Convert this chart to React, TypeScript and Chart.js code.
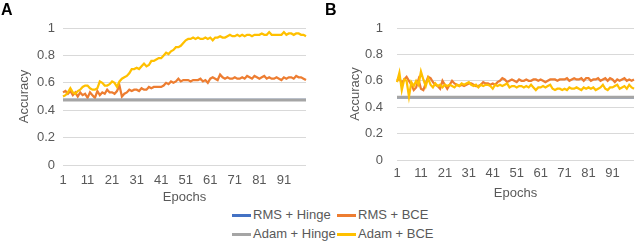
import React, { useEffect, useRef } from "react";
import { Chart, registerables } from "chart.js";

Chart.register(...registerables);

const epochs: string[] = Array.from({ length: 100 }, (_, i) => String(i + 1));
const yTicks = [0, 0.2, 0.4, 0.6, 0.8, 1];

const seriesNames = ["RMS + Hinge", "RMS + BCE", "Adam + Hinge", "Adam + BCE"];
const seriesColors = ["#4472C4", "#ED7D31", "#A5A5A5", "#FFC000"];

// Panel A
const aRmsHinge = [
  0.475, 0.475, 0.475, 0.475, 0.475, 0.475, 0.475, 0.475, 0.475, 0.475,
  0.475, 0.475, 0.475, 0.475, 0.475, 0.475, 0.475, 0.475, 0.475, 0.475,
  0.475, 0.475, 0.475, 0.475, 0.475, 0.475, 0.475, 0.475, 0.475, 0.475,
  0.475, 0.475, 0.475, 0.475, 0.475, 0.475, 0.475, 0.475, 0.475, 0.475,
  0.475, 0.475, 0.475, 0.475, 0.475, 0.475, 0.475, 0.475, 0.475, 0.475,
  0.475, 0.475, 0.475, 0.475, 0.475, 0.475, 0.475, 0.475, 0.475, 0.475,
  0.475, 0.475, 0.475, 0.475, 0.475, 0.475, 0.475, 0.475, 0.475, 0.475,
  0.475, 0.475, 0.475, 0.475, 0.475, 0.475, 0.475, 0.475, 0.475, 0.475,
  0.475, 0.475, 0.475, 0.475, 0.475, 0.475, 0.475, 0.475, 0.475, 0.475,
  0.475, 0.475, 0.475, 0.475, 0.475, 0.475, 0.475, 0.475, 0.475, 0.475,
];
const aRmsBce = [
  0.53, 0.54, 0.52, 0.54, 0.51, 0.53, 0.50, 0.53, 0.51, 0.52,
  0.49, 0.53, 0.51, 0.49, 0.54, 0.51, 0.53, 0.52, 0.55, 0.53,
  0.53, 0.52, 0.54, 0.58, 0.50, 0.52, 0.53, 0.55, 0.54, 0.55,
  0.55, 0.54, 0.56, 0.55, 0.55, 0.57, 0.56, 0.57, 0.57, 0.57,
  0.57, 0.58, 0.60, 0.59, 0.61, 0.60, 0.61, 0.63, 0.61, 0.62,
  0.62, 0.62, 0.61, 0.62, 0.62, 0.62, 0.63, 0.61, 0.62, 0.60,
  0.63, 0.64, 0.63, 0.62, 0.66, 0.64, 0.63, 0.64, 0.63, 0.63,
  0.64, 0.63, 0.63, 0.64, 0.63, 0.65, 0.64, 0.63, 0.65, 0.64,
  0.63, 0.64, 0.65, 0.63, 0.64, 0.63, 0.63, 0.64, 0.63, 0.62,
  0.64, 0.63, 0.64, 0.64, 0.63, 0.65, 0.64, 0.64, 0.63, 0.62,
];
const aAdamHinge = [
  0.475, 0.475, 0.475, 0.475, 0.475, 0.475, 0.475, 0.475, 0.475, 0.475,
  0.475, 0.475, 0.475, 0.475, 0.475, 0.475, 0.475, 0.475, 0.475, 0.475,
  0.475, 0.475, 0.475, 0.475, 0.475, 0.475, 0.475, 0.475, 0.475, 0.475,
  0.475, 0.475, 0.475, 0.475, 0.475, 0.475, 0.475, 0.475, 0.475, 0.475,
  0.475, 0.475, 0.475, 0.475, 0.475, 0.475, 0.475, 0.475, 0.475, 0.475,
  0.475, 0.475, 0.475, 0.475, 0.475, 0.475, 0.475, 0.475, 0.475, 0.475,
  0.475, 0.475, 0.475, 0.475, 0.475, 0.475, 0.475, 0.475, 0.475, 0.475,
  0.475, 0.475, 0.475, 0.475, 0.475, 0.475, 0.475, 0.475, 0.475, 0.475,
  0.475, 0.475, 0.475, 0.475, 0.475, 0.475, 0.475, 0.475, 0.475, 0.475,
  0.475, 0.475, 0.475, 0.475, 0.475, 0.475, 0.475, 0.475, 0.475, 0.475,
];
const aAdamBce = [
  0.50, 0.51, 0.53, 0.56, 0.53, 0.52, 0.54, 0.55, 0.57, 0.58,
  0.58, 0.56, 0.55, 0.55, 0.56, 0.61, 0.60, 0.58, 0.58, 0.59,
  0.61, 0.60, 0.57, 0.61, 0.63, 0.64, 0.65, 0.67, 0.70, 0.70,
  0.71, 0.70, 0.72, 0.74, 0.72, 0.73, 0.76, 0.76, 0.77, 0.78,
  0.78, 0.80, 0.82, 0.81, 0.83, 0.84, 0.86, 0.86, 0.87, 0.89,
  0.91, 0.92, 0.92, 0.93, 0.92, 0.93, 0.92, 0.92, 0.93, 0.92,
  0.93, 0.91, 0.93, 0.93, 0.94, 0.93, 0.93, 0.94, 0.95, 0.94,
  0.94, 0.95, 0.94, 0.95, 0.94, 0.95, 0.95, 0.94, 0.95, 0.95,
  0.95, 0.96, 0.95, 0.95, 0.97, 0.95, 0.95, 0.95, 0.95, 0.95,
  0.97, 0.95, 0.96, 0.96, 0.95, 0.96, 0.96, 0.95, 0.95, 0.94,
];

// Panel B
const bRmsHinge = [
  0.475, 0.475, 0.475, 0.475, 0.475, 0.475, 0.475, 0.475, 0.475, 0.475,
  0.475, 0.475, 0.475, 0.475, 0.475, 0.475, 0.475, 0.475, 0.475, 0.475,
  0.475, 0.475, 0.475, 0.475, 0.475, 0.475, 0.475, 0.475, 0.475, 0.475,
  0.475, 0.475, 0.475, 0.475, 0.475, 0.475, 0.475, 0.475, 0.475, 0.475,
  0.475, 0.475, 0.475, 0.475, 0.475, 0.475, 0.475, 0.475, 0.475, 0.475,
  0.475, 0.475, 0.475, 0.475, 0.475, 0.475, 0.475, 0.475, 0.475, 0.475,
  0.475, 0.475, 0.475, 0.475, 0.475, 0.475, 0.475, 0.475, 0.475, 0.475,
  0.475, 0.475, 0.475, 0.475, 0.475, 0.475, 0.475, 0.475, 0.475, 0.475,
  0.475, 0.475, 0.475, 0.475, 0.475, 0.475, 0.475, 0.475, 0.475, 0.475,
  0.475, 0.475, 0.475, 0.475, 0.475, 0.475, 0.475, 0.475, 0.475, 0.475,
];
const bRmsBce = [
  0.60, 0.62, 0.58, 0.61, 0.63, 0.60, 0.57, 0.53, 0.55, 0.61,
  0.54, 0.53, 0.58, 0.63, 0.62, 0.59, 0.57, 0.56, 0.54, 0.60,
  0.57, 0.54, 0.57, 0.60, 0.58, 0.57, 0.56, 0.57, 0.56, 0.57,
  0.58, 0.58, 0.57, 0.56, 0.56, 0.57, 0.59, 0.58, 0.58, 0.57,
  0.58, 0.57, 0.59, 0.60, 0.62, 0.61, 0.59, 0.60, 0.61, 0.60,
  0.59, 0.61, 0.60, 0.60, 0.61, 0.60, 0.60, 0.61, 0.61, 0.60,
  0.61, 0.60, 0.59, 0.60, 0.61, 0.61, 0.61, 0.60, 0.61, 0.61,
  0.61, 0.62, 0.60, 0.61, 0.62, 0.61, 0.61, 0.62, 0.60, 0.62,
  0.62, 0.60, 0.61, 0.61, 0.62, 0.60, 0.61, 0.62, 0.60, 0.62,
  0.61, 0.59, 0.61, 0.60, 0.61, 0.62, 0.60, 0.61, 0.60, 0.61,
];
const bAdamHinge = [
  0.475, 0.475, 0.475, 0.475, 0.475, 0.475, 0.475, 0.475, 0.475, 0.475,
  0.475, 0.475, 0.475, 0.475, 0.475, 0.475, 0.475, 0.475, 0.475, 0.475,
  0.475, 0.475, 0.475, 0.475, 0.475, 0.475, 0.475, 0.475, 0.475, 0.475,
  0.475, 0.475, 0.475, 0.475, 0.475, 0.475, 0.475, 0.475, 0.475, 0.475,
  0.475, 0.475, 0.475, 0.475, 0.475, 0.475, 0.475, 0.475, 0.475, 0.475,
  0.475, 0.475, 0.475, 0.475, 0.475, 0.475, 0.475, 0.475, 0.475, 0.475,
  0.475, 0.475, 0.475, 0.475, 0.475, 0.475, 0.475, 0.475, 0.475, 0.475,
  0.475, 0.475, 0.475, 0.475, 0.475, 0.475, 0.475, 0.475, 0.475, 0.475,
  0.475, 0.475, 0.475, 0.475, 0.475, 0.475, 0.475, 0.475, 0.475, 0.475,
  0.475, 0.475, 0.475, 0.475, 0.475, 0.475, 0.475, 0.475, 0.475, 0.475,
];
const bAdamBce = [
  0.59, 0.66, 0.53, 0.61, 0.60, 0.48, 0.59, 0.56, 0.60, 0.57,
  0.67, 0.61, 0.56, 0.62, 0.57, 0.55, 0.58, 0.56, 0.57, 0.55,
  0.57, 0.56, 0.57, 0.56, 0.55, 0.57, 0.56, 0.58, 0.57, 0.58,
  0.59, 0.57, 0.56, 0.57, 0.55, 0.57, 0.56, 0.57, 0.57, 0.56,
  0.54, 0.57, 0.56, 0.57, 0.56, 0.57, 0.58, 0.55, 0.56, 0.56,
  0.55, 0.56, 0.56, 0.55, 0.56, 0.55, 0.57, 0.55, 0.53, 0.55,
  0.55, 0.56, 0.55, 0.56, 0.57, 0.54, 0.53, 0.54, 0.54, 0.53,
  0.54, 0.53, 0.55, 0.54, 0.54, 0.55, 0.54, 0.53, 0.55, 0.54,
  0.55, 0.54, 0.55, 0.53, 0.54, 0.55, 0.57, 0.54, 0.53, 0.55,
  0.55, 0.56, 0.57, 0.54, 0.55, 0.56, 0.54, 0.57, 0.55, 0.54,
];

const FONT = "'Liberation Sans', Arial, sans-serif";
const TEXT = "#595959";
const GRID = "#D9D9D9";

interface PanelCfg {
  series: number[][];
  width: number;
  height: number;
  yAxisWidth: number;
  yTickPad: number;
  yTitlePad: number;
  xAxisHeight: number;
  xTickPad: number;
  padRight: number;
  padTop: number;
}

function Panel({ cfg }: { cfg: PanelCfg }) {
  const ref = useRef<HTMLCanvasElement | null>(null);
  useEffect(() => {
    if (!ref.current) return;
    const widths = [2.25, 2.25, 3, 2.25];
    const orders = [3, 2, 1, 0];
    const chart = new Chart(ref.current, {
      type: "line",
      data: {
        labels: epochs,
        datasets: cfg.series.map((s, i) => ({
          label: seriesNames[i],
          data: s,
          borderColor: seriesColors[i],
          backgroundColor: seriesColors[i],
          borderWidth: widths[i],
          pointRadius: 0,
          tension: 0,
          fill: false,
          order: orders[i],
        })),
      },
      options: {
        responsive: false,
        animation: false,
        events: [],
        layout: { padding: { top: cfg.padTop, right: cfg.padRight, left: 0, bottom: 0 } },
        plugins: { legend: { display: false }, tooltip: { enabled: false } },
        scales: {
          x: {
            offset: false,
            grid: { display: false, drawTicks: false },
            border: { display: false },
            ticks: {
              autoSkip: false,
              maxRotation: 0,
              padding: cfg.xTickPad,
              color: TEXT,
              font: { family: FONT, size: 13 },
              callback: (_v: any, i: number) => (i % 10 === 0 && i < 99 ? epochs[i] : ""),
            },
            title: {
              display: true,
              text: "Epochs",
              color: TEXT,
              font: { family: FONT, size: 13 },
              padding: { top: 0, bottom: 0 },
            },
            afterFit: (axis: any) => {
              axis.height = cfg.xAxisHeight;
            },
          },
          y: {
            min: 0,
            max: 1,
            afterBuildTicks: (axis: any) => {
              axis.ticks = yTicks.map((v) => ({ value: v }));
            },
            grid: { color: GRID, lineWidth: 1, drawTicks: false },
            border: { display: false },
            ticks: {
              padding: cfg.yTickPad,
              color: TEXT,
              font: { family: FONT, size: 13 },
              callback: (v: any) => String(v),
            },
            title: {
              display: true,
              text: "Accuracy",
              color: TEXT,
              font: { family: FONT, size: 13 },
              padding: { top: cfg.yTitlePad, bottom: 0 },
            },
            afterFit: (axis: any) => {
              axis.width = cfg.yAxisWidth;
            },
          },
        },
      },
    } as any);
    return () => chart.destroy();
  }, [cfg]);
  return <canvas ref={ref} width={cfg.width} height={cfg.height} style={{ display: "block" }} />;
}

const cfgA: PanelCfg = {
  series: [aRmsHinge, aRmsBce, aAdamHinge, aAdamBce],
  width: 320,
  height: 205,
  yAxisWidth: 63,
  yTickPad: 8,
  yTitlePad: 17,
  xAxisHeight: 40,
  xTickPad: 8,
  padRight: 14,
  padTop: 28,
};

const cfgB: PanelCfg = {
  series: [bRmsHinge, bRmsBce, bAdamHinge, bAdamBce],
  width: 320,
  height: 201,
  yAxisWidth: 77,
  yTickPad: 14,
  yTitlePad: 28,
  xAxisHeight: 41,
  xTickPad: 6,
  padRight: 0,
  padTop: 28,
};

function LegendItem({ name, color, left, top }: { name: string; color: string; left: number; top: number }) {
  return (
    <div style={{ position: "absolute", left, top, height: 16, display: "flex", alignItems: "center", whiteSpace: "nowrap" }}>
      <div style={{ width: 19, height: 3, background: color, marginRight: 2 }} />
      <span style={{ fontFamily: FONT, fontSize: 13, color: TEXT, lineHeight: "16px" }}>{name}</span>
    </div>
  );
}

export default function App() {
  return (
    <div style={{ position: "absolute", left: 0, top: 0, width: 640, height: 243, background: "#fff", overflow: "hidden" }}>
      <div style={{ position: "absolute", left: 0, top: 0 }}>
        <Panel cfg={cfgA} />
      </div>
      <div style={{ position: "absolute", left: 320, top: 0 }}>
        <Panel cfg={cfgB} />
      </div>
      <div style={{ position: "absolute", left: 1, top: 0, fontFamily: FONT, fontWeight: "bold", fontSize: 16, lineHeight: "20px", color: "#000" }}>A</div>
      <div style={{ position: "absolute", left: 325, top: 0, fontFamily: FONT, fontWeight: "bold", fontSize: 16, lineHeight: "20px", color: "#000" }}>B</div>
      <LegendItem name={seriesNames[0]} color={seriesColors[0]} left={232} top={207} />
      <LegendItem name={seriesNames[1]} color={seriesColors[1]} left={337} top={207} />
      <LegendItem name={seriesNames[2]} color={seriesColors[2]} left={232} top={226} />
      <LegendItem name={seriesNames[3]} color={seriesColors[3]} left={337} top={226} />
    </div>
  );
}
